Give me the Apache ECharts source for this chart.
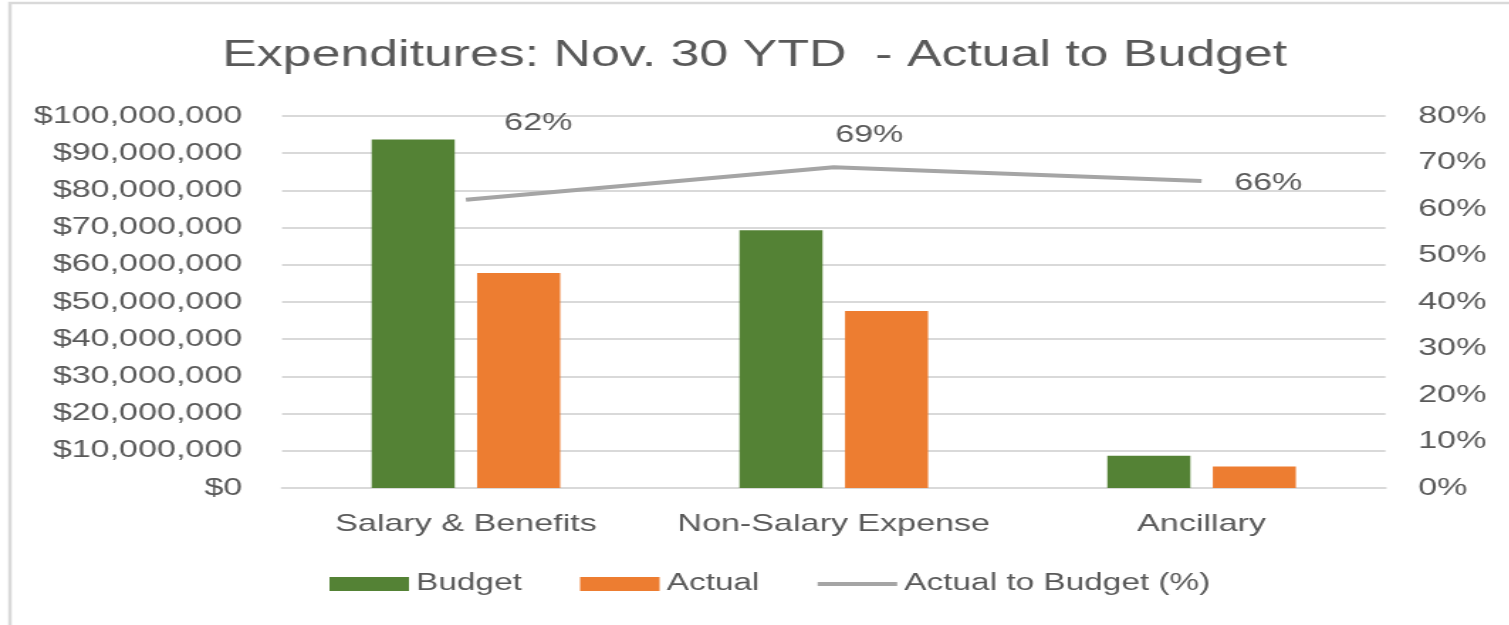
<!DOCTYPE html>
<html lang="en">
<head>
	<meta charset="UTF-8">
	<title>Expenditures</title>
	<style>
		body { margin: 0; overflow: hidden; background: #fff; }
		/* the reference is stretched sideways, so draw narrow and stretch */
		#main { width: 1063px; height: 625px; transform: scaleX(1.42); transform-origin: 0 0; }
	</style>
</head>
<body>
	<div id="main"></div>
</body>
</html>

<script src='https://cdn.jsdelivr.net/npm/echarts@6/dist/echarts.min.js'></script>
<script>

		var categories = ['Salary & Benefits', 'Non-Salary Expense', 'Ancillary'];
		var budget = [93700000, 69300000, 8700000];
		var actual = [57800000, 47600000, 5750000];
		var ratio = [0.62, 0.69, 0.66];
		// where each % label sits relative to its point
		var labelOffsets = [[51, -76], [25, -32], [47, 2]];

		var grey = '#595959';
		var font = 'Liberation Sans';

		var myChart = echarts.init(document.getElementById('main'));

		var lineData = ratio.map(function (v, i) {
			return { value: v, label: { offset: labelOffsets[i] } };
		});

		var option = {
			animation: false,
			title: {
				text: 'Expenditures: Nov. 30 YTD  - Actual to Budget',
				left: 'center',
				top: 32,
				textStyle: { color: grey, fontSize: 36.5, fontWeight: 'normal', fontFamily: font }
			},
			legend: {
				bottom: 24,
				left: 227,
				itemWidth: 56,
				itemHeight: 14,
				itemGap: 41,
				textStyle: { color: grey, fontSize: 23.5, fontFamily: font },
				data: [
					{ name: 'Budget', icon: 'rect' },
					{ name: 'Actual', icon: 'rect' },
					{ name: 'Actual to Budget (%)', icon: 'path://M0,0H80V6H0Z' }
				]
			},
			grid: { left: 198.6, right: 87.3, top: 116, bottom: 137 },
			xAxis: {
				type: 'category',
				data: categories,
				axisTick: { show: false },
				axisLine: { lineStyle: { color: '#D9D9D9', width: 2 } },
				axisLabel: { color: grey, fontSize: 24, fontFamily: font, margin: 24, interval: 0, hideOverlap: false }
			},
			yAxis: [{
				type: 'value',
				min: 0,
				max: 100000000,
				interval: 10000000,
				axisLine: { show: false },
				axisTick: { show: false },
				splitLine: { lineStyle: { color: '#D9D9D9', width: 2 } },
				axisLabel: {
					color: grey, fontSize: 24, fontFamily: font, margin: 28,
					formatter: function (v) { return '$' + v.toLocaleString('en-US'); }
				}
			}, {
				type: 'value',
				min: 0,
				max: 0.8,
				interval: 0.1,
				axisLine: { show: false },
				axisTick: { show: false },
				splitLine: { show: false },
				axisLabel: {
					color: grey, fontSize: 24, fontFamily: font, margin: 23,
					formatter: function (v) { return Math.round(v * 100) + '%'; }
				}
			}],
			series: [{
				name: 'Budget',
				type: 'bar',
				data: budget,
				barWidth: 58.5,
				barGap: '27%',
				itemStyle: { color: '#548235' }
			}, {
				name: 'Actual',
				type: 'bar',
				data: actual,
				barWidth: 58.5,
				itemStyle: { color: '#ED7D31' }
			}, {
				name: 'Actual to Budget (%)',
				type: 'line',
				yAxisIndex: 1,
				data: lineData,
				symbol: 'circle',
				symbolSize: 0,
				lineStyle: { color: '#A5A5A5', width: 4 },
				itemStyle: { color: '#A5A5A5' },
				label: {
					show: true,
					position: 'inside',
					color: grey,
					fontSize: 24,
					fontFamily: font,
					formatter: function (p) { return Math.round(p.value * 100) + '%'; }
				}
			}],
			graphic: [{
				type: 'rect',
				shape: { x: 7, y: 3, width: 1200, height: 800 },
				style: { fill: 'none', stroke: '#D9D9D9', lineWidth: 2.5 },
				silent: true
			}]
		};
		myChart.setOption(option);

	</script>
